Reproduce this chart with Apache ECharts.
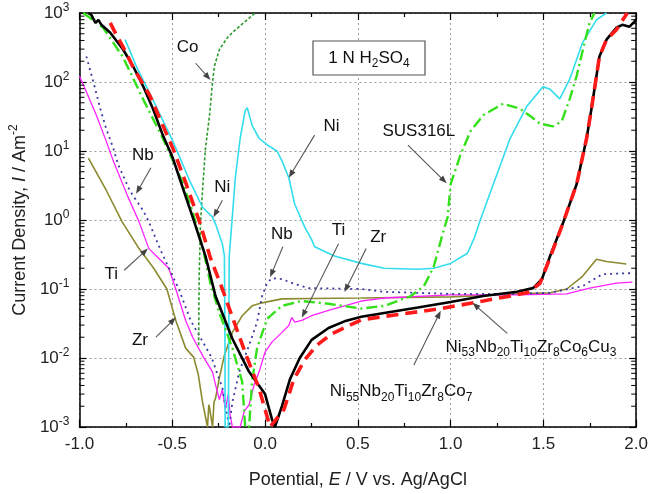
<!DOCTYPE html>
<html lang="en">
<head>
<meta charset="UTF-8">
<title>Polarization curves in 1 N H2SO4</title>
<script src="https://cdn.jsdelivr.net/npm/echarts@6/dist/echarts.min.js"></script>
<style>
    body{margin:0;background:#fff;}
    #chart{width:651px;height:494px;}
</style>
</head>
<body>
<div id="chart"></div>
<script>
// [potential E (V vs Ag/AgCl), current density I (A/m2)]
var zr = [[-0.952,7.9],[-0.856,2.7],[-0.770,0.94],[-0.679,0.385],[-0.600,0.2],[-0.529,0.1],[-0.481,0.035],
    [-0.428,0.0139],[-0.385,0.0103],[-0.360,0.0058],[-0.337,0.0023],[-0.310,0.001],[-0.303,0.0021],[-0.299,0.0019],
    [-0.283,0.001],[-0.275,0.0023],[-0.267,0.0026],[-0.246,0.0052],[-0.219,0.011],[-0.176,0.0235],[-0.123,0.041],
    [-0.070,0.057],[-0.016,0.063],[0.091,0.072],[0.251,0.073],[0.519,0.074],[1.0,0.077],[1.358,0.085],
    [1.535,0.088],[1.626,0.1],[1.711,0.153],[1.786,0.27],[1.840,0.25],[1.947,0.23]];
var ti = [[-1.0,122],[-0.963,72],[-0.909,33],[-0.856,13.9],[-0.818,7.2],[-0.740,2.2],[-0.679,0.94],[-0.626,0.385],
    [-0.572,0.277],[-0.519,0.2],[-0.481,0.1],[-0.428,0.035],[-0.390,0.02],[-0.332,0.0103],[-0.283,0.0063],
    [-0.267,0.0041],[-0.246,0.0025],[-0.230,0.0035],[-0.214,0.0018],[-0.198,0.003],[-0.188,0.0015],[-0.176,0.001],
    [-0.134,0.001],[-0.112,0.0017],[-0.086,0.0021],[-0.059,0.0041],[-0.032,0.0063],[0.0,0.0122],[0.037,0.017],
    [0.091,0.0235],[0.128,0.0296],[0.144,0.0385],[0.160,0.033],[0.198,0.035],[0.251,0.041],[0.342,0.049],
    [0.519,0.067],[0.642,0.074],[1.0,0.082],[1.358,0.082],[1.626,0.085],[1.749,0.103],[1.893,0.122],[1.979,0.126]];
var nb = [[-0.963,235],[-0.925,100],[-0.888,41],[-0.856,21],[-0.818,11],[-0.791,6.3],[-0.727,2.6],[-0.658,1.39],
    [-0.626,0.94],[-0.560,0.35],[-0.465,0.1],[-0.401,0.035],[-0.340,0.018],[-0.289,0.0103],[-0.230,0.0037],
    [-0.203,0.0014],[-0.193,0.001],[-0.176,0.0023],[-0.139,0.0063],[-0.086,0.0153],[-0.043,0.033],[-0.016,0.079],
    [0.011,0.122],[0.037,0.144],[0.091,0.139],[0.160,0.118],[0.235,0.103],[0.519,0.1],[0.642,0.091],[1.0,0.085],
    [1.358,0.085],[1.535,0.088],[1.711,0.11],[1.818,0.164],[1.979,0.17]];
var co = [[-0.358,0.0153],[-0.355,0.15],[-0.348,0.88],[-0.337,2.7],[-0.321,11],[-0.299,33],[-0.283,100],
    [-0.273,169],[-0.246,296],[-0.200,450],[-0.160,571],[-0.053,1000]];
var ni = [[-0.754,411],[-0.690,160],[-0.604,55],[-0.497,13.9],[-0.406,3.7],[-0.337,1.53],[-0.283,1.1],
    [-0.267,0.88],[-0.230,0.45],[-0.219,0.3],[-0.216,0.02],[-0.215,0.001],[-0.198,0.001],[-0.193,0.3],
    [-0.160,4.1],[-0.134,15.3],[-0.107,38.5],[-0.096,42.5],[-0.070,23.5],[-0.032,15.3],[0.021,11.8],[0.064,10],
    [0.091,7.2],[0.128,4.1],[0.160,1.69],[0.214,0.79],[0.251,0.52],[0.267,0.41],[0.374,0.3],[0.519,0.235],
    [0.642,0.2],[0.824,0.193],[0.909,0.2],[1.0,0.235],[1.091,0.33],[1.130,0.57],[1.160,1.0],[1.230,3.3],
    [1.321,15.3],[1.412,45],[1.497,85],[1.535,79],[1.588,57],[1.642,110],[1.711,373],[1.786,794],[1.840,1000]];
var sus = [[-0.979,1000],[-0.872,611],[-0.765,228],[-0.658,57],[-0.551,15.3],[-0.444,3.5],[-0.390,1.3],
    [-0.337,0.41],[-0.294,0.12],[-0.246,0.045],[-0.176,0.0139],[-0.123,0.0045],[-0.107,0.001],[-0.086,0.001],
    [-0.070,0.0045],[-0.043,0.0139],[0.011,0.037],[0.091,0.057],[0.198,0.067],[0.342,0.061],[0.519,0.052],
    [0.642,0.057],[0.786,0.079],[0.856,0.11],[0.909,0.21],[0.957,0.63],[0.984,1.1],[1.0,3.3],[1.053,8.8],
    [1.107,19.3],[1.176,33],[1.283,48.5],[1.374,41],[1.444,30],[1.481,25],[1.551,22.8],[1.599,27],[1.642,57],
    [1.679,122],[1.722,373],[1.749,720],[1.775,1000]];
var cu3 = [[-0.952,1000],[-0.936,940],[-0.914,720],[-0.898,794],[-0.882,674],[-0.834,518],[-0.765,296],
    [-0.711,169],[-0.658,88],[-0.604,41],[-0.551,17],[-0.497,7.9],[-0.444,2.96],[-0.390,1.1],[-0.321,0.3],
    [-0.267,0.079],[-0.176,0.019],[-0.086,0.0063],[0.0,0.003],[0.037,0.0013],[0.053,0.001],[0.091,0.002],
    [0.134,0.0049],[0.187,0.01],[0.251,0.0183],[0.342,0.0272],[0.428,0.034],[0.519,0.0396],[0.642,0.045],
    [0.824,0.054],[1.0,0.065],[1.176,0.079],[1.358,0.091],[1.444,0.103],[1.492,0.139],[1.535,0.296],
    [1.604,0.88],[1.679,3.3],[1.733,15.3],[1.759,41],[1.786,122],[1.802,235],[1.840,411],[1.893,611],
    [1.925,674],[1.963,631],[2.0,794]];
var co7 = [[-0.834,720],[-0.802,485],[-0.749,268],[-0.711,164],[-0.620,63],[-0.567,29.5],[-0.497,11],
    [-0.428,3.5],[-0.353,0.94],[-0.294,0.28],[-0.230,0.1],[-0.160,0.0296],[-0.096,0.01],[-0.032,0.0036],
    [0.0,0.0018],[0.027,0.001],[0.102,0.0018],[0.155,0.0049],[0.214,0.0094],[0.278,0.0152],[0.358,0.0223],
    [0.519,0.0358],[0.642,0.040],[0.947,0.052],[1.176,0.067],[1.412,0.088],[1.481,0.12],[1.535,0.28],
    [1.604,0.88],[1.679,3.3],[1.733,15.3],[1.759,41],[1.786,122],[1.802,235],[1.840,411],[1.893,572],[1.952,1000]];

// labels: text position, arrow start, arrow end (data coords)
var notes = [
    {txt:'Co', t:[-0.417,316], a:[-0.374,187], b:[-0.294,107]},
    {txt:'Ni', t:[0.358,22.8], a:[0.267,17], b:[0.128,4.1]},
    {txt:'SUS316L', t:[0.829,19.3], a:[0.770,12.2], b:[0.979,3.4]},
    {txt:'Nb', t:[-0.658,8.8], a:[-0.615,5.7], b:[-0.695,2.4]},
    {txt:'Ni', t:[-0.23,2.96], a:[-0.23,1.93], b:[-0.278,1.1]},
    {txt:'Ti', t:[-0.829,0.164], a:[-0.759,0.187], b:[-0.631,0.385]},
    {txt:'Zr', t:[-0.674,0.018], a:[-0.588,0.02], b:[-0.481,0.0385]},
    {txt:'Nb', t:[0.091,0.61], a:[0.096,0.41], b:[0.027,0.148]},
    {txt:'Ti', t:[0.396,0.72], a:[0.396,0.454], b:[0.198,0.0385]},
    {txt:'Zr', t:[0.610,0.57], a:[0.545,0.385], b:[0.428,0.0906]},
    {txt:'{n|Ni}{s|53}{n|Nb}{s|20}{n|Ti}{s|10}{n|Zr}{s|8}{n|Co}{s|6}{n|Cu}{s|3}', t:[1.433,0.0144], a:[1.305,0.0228], b:[1.118,0.063]},
    {txt:'{n|Ni}{s|55}{n|Nb}{s|20}{n|Ti}{s|10}{n|Zr}{s|8}{n|Co}{s|7}', t:[0.733,0.00327], a:[0.802,0.0079], b:[0.947,0.0485]}
];

// log minor tick positions (2..9 x 10^k)
var minorVals = [];
for (var k = -3; k < 3; k++) {
    for (var m = 2; m <= 9; m++) minorVals.push(m * Math.pow(10, k));
}

var chart = echarts.init(document.getElementById('chart'));
var FONT = 'Liberation Sans, Arial, sans-serif';

function line(name, data, color, width, type) {
    return {
        name: name, type: 'line', data: data, showSymbol: false, animation: false,
        lineStyle: {color: color, width: width, type: type || 'solid'},
        itemStyle: {color: color}
    };
}

var frame = {show: true, onZero: false, lineStyle: {color: '#000', width: 1.5}};
var tick = {inside: true, length: 7, lineStyle: {color: '#000', width: 1.2}};
var option = {
    backgroundColor: '#fff',
    animation: false,
    grid: {left: 76, right: 14, top: 13, bottom: 62},
    xAxis: [{
        type: 'value', min: -1, max: 2, interval: 0.5, position: 'bottom',
        axisLine: frame, axisTick: tick,
        minorTick: {show: true, splitNumber: 2, length: 4, lineStyle: {color: '#000', width: 1.2}},
        splitLine: {show: true, lineStyle: {color: '#9a9a9a', type: [2, 3], width: 1}},
        axisLabel: {fontSize: 17, color: '#222', fontFamily: FONT, margin: 9,
            formatter: function (v) { return v.toFixed(1); }},
        name: 'Potential, {i|E} / V vs. Ag/AgCl', nameLocation: 'middle', nameGap: 44,
        nameTextStyle: {fontSize: 18, color: '#222', fontFamily: FONT,
            rich: {i: {fontSize: 18, fontStyle: 'italic', color: '#222', fontFamily: FONT}}}
    }, {
        type: 'value', min: -1, max: 2, interval: 0.5, position: 'top',
        axisLine: frame, axisTick: tick, axisLabel: {show: false}, splitLine: {show: false},
        minorTick: {show: true, splitNumber: 2, length: 4, lineStyle: {color: '#000', width: 1.2}}
    }],
    yAxis: [{
        type: 'log', logBase: 10, min: 0.001, max: 1000, splitNumber: 6, position: 'left',
        axisLine: frame, axisTick: tick,
        splitLine: {show: true, lineStyle: {color: '#9a9a9a', type: [2, 3], width: 1}},
        axisLabel: {margin: 10, color: '#222', fontFamily: FONT,
            formatter: function (v) {
                var p = Math.round(Math.log(v) / Math.LN10);
                return '{b|10}{s|' + p + '}';
            },
            rich: {
                b: {fontSize: 17, lineHeight: 22, color: '#222', fontFamily: FONT},
                s: {fontSize: 12, lineHeight: 12, verticalAlign: 'top', color: '#222', fontFamily: FONT}
            }},
        name: 'Current Density, {i|I} / Am{s|-2}', nameLocation: 'middle', nameGap: 46,
        nameTextStyle: {fontSize: 18, color: '#222', fontFamily: FONT,
            rich: {
                i: {fontSize: 18, fontStyle: 'italic', lineHeight: 24, color: '#222', fontFamily: FONT},
                s: {fontSize: 12, lineHeight: 12, verticalAlign: 'top', color: '#222', fontFamily: FONT}
            }}
    }, {
        type: 'log', logBase: 10, min: 0.001, max: 1000, splitNumber: 6, position: 'right',
        axisLine: frame, axisTick: tick, axisLabel: {show: false}, splitLine: {show: false}
    }],
    series: [
        {
            type: 'custom', silent: true, z: 10, clip: false,
            data: minorVals.map(function (v) { return [-1, v]; }),
            renderItem: function (params, api) {
                var y = api.coord([-1, api.value(1)])[1];
                var cs = params.coordSys;
                var st = {stroke: '#000', lineWidth: 1};
                return {type: 'group', children: [
                    {type: 'line', shape: {x1: cs.x, y1: y, x2: cs.x + 5, y2: y}, style: st},
                    {type: 'line', shape: {x1: cs.x + cs.width, y1: y, x2: cs.x + cs.width - 5, y2: y}, style: st}
                ]};
            }
        },
        line('Zr', zr, '#8c8a2e', 1.6),
        line('Ti', ti, '#ff22ff', 1.3),
        line('Nb', nb, '#3a3aa0', 1.8, [2, 4]),
        line('Co', co, '#2e9a2e', 1.6, [3, 2]),
        line('Ni', ni, '#33ddee', 1.6),
        line('SUS316L', sus, '#33e01a', 2.4, [11, 4, 2, 4]),
        line('Ni53Nb20Ti10Zr8Co6Cu3', cu3, '#000000', 2.6),
        line('Ni55Nb20Ti10Zr8Co7', co7, '#ff1a1a', 3.6, [12, 7])
    ]
};
chart.setOption(option);

var px = function (p) { return chart.convertToPixel({gridIndex: 0}, p); };
var gr = [];
notes.forEach(function (n) {
    var t = px(n.t), a = px(n.a), b = px(n.b);
    var dx = b[0] - a[0], dy = b[1] - a[1], len = Math.sqrt(dx * dx + dy * dy);
    var ux = dx / len, uy = dy / len, hl = 8, hw = 3;
    gr.push({type: 'line', silent: true, z: 100,
        shape: {x1: a[0], y1: a[1], x2: b[0] - ux * hl * 0.8, y2: b[1] - uy * hl * 0.8},
        style: {stroke: '#555', lineWidth: 1.1}});
    gr.push({type: 'polygon', silent: true, z: 100,
        shape: {points: [[b[0], b[1]],
            [b[0] - ux * hl - uy * hw, b[1] - uy * hl + ux * hw],
            [b[0] - ux * hl + uy * hw, b[1] - uy * hl - ux * hw]]},
        style: {fill: '#444'}});
    gr.push({type: 'text', silent: true, z: 101, x: t[0], y: t[1],
        style: {text: n.txt, fill: '#111', font: '17px ' + FONT, align: 'center', verticalAlign: 'middle',
            rich: {
                n: {fontSize: 17, lineHeight: 24, fontFamily: FONT, fill: '#111'},
                s: {fontSize: 12, lineHeight: 12, verticalAlign: 'bottom', fontFamily: FONT, fill: '#111'}
            }}});
});
// solution box
gr.push({type: 'rect', silent: true, z: 100, shape: {x: 313, y: 41, width: 112, height: 34},
    style: {fill: '#fff', stroke: '#555', lineWidth: 1.2}});
gr.push({type: 'text', silent: true, z: 101, x: 369, y: 58,
    style: {text: '{n|1 N H}{s|2}{n|SO}{s|4}', align: 'center', verticalAlign: 'middle',
        rich: {
            n: {fontSize: 17, lineHeight: 24, fontFamily: FONT, fill: '#111'},
            s: {fontSize: 12, lineHeight: 12, verticalAlign: 'bottom', fontFamily: FONT, fill: '#111'}
        }}});
chart.setOption({graphic: gr});
</script>
</body>
</html>
